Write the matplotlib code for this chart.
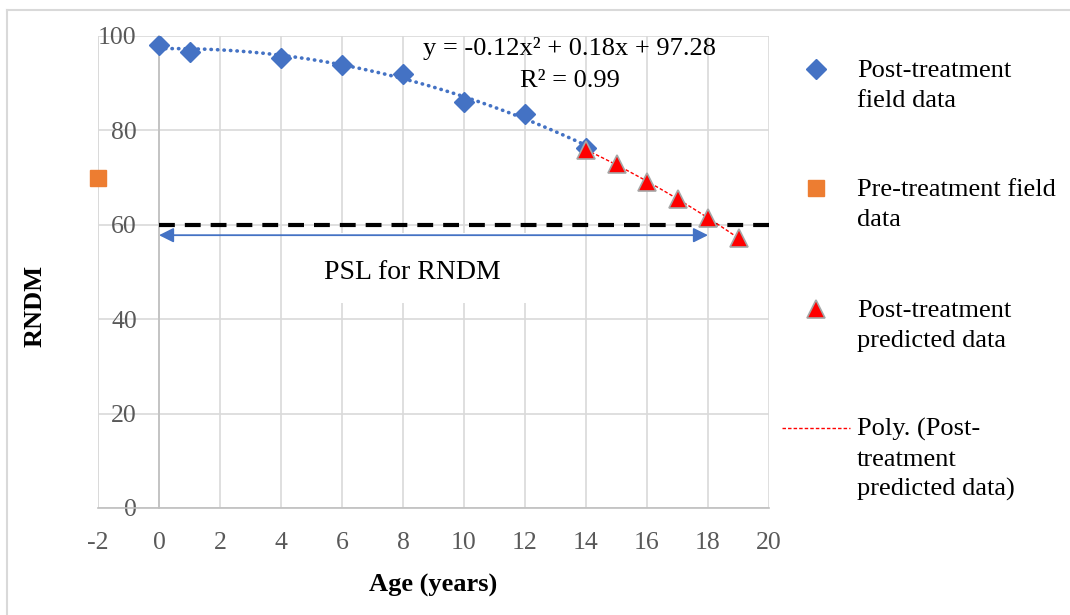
import numpy as np
import matplotlib
matplotlib.use("Agg")
import matplotlib.pyplot as plt
from matplotlib.lines import Line2D
from matplotlib.patches import Rectangle

plt.rcParams['font.family'] = ['Liberation Serif', 'DejaVu Serif']
plt.rcParams['axes.unicode_minus'] = False

# ---- data ----
field_age = [0, 1, 4, 6, 8, 10, 12, 14]
field_rndm = [98.0, 96.7, 95.4, 93.8, 92.0, 86.1, 83.5, 76.3]
pre_age = [-2]
pre_rndm = [69.9]
pred_age = [14, 15, 16, 17, 18, 19]
pred_rndm = [75.8, 72.9, 69.1, 65.5, 61.4, 57.2]
psl_value = 60
psl_range = [0, 18]
x_ticks = list(range(-2, 21, 2))
y_ticks = list(range(0, 101, 20))
legend_labels = ["Post-treatment\nfield data", "Pre-treatment field\ndata",
                 "Post-treatment\npredicted data", "Poly. (Post-\ntreatment\npredicted data)"]
eq_text = "y = -0.12x\u00b2 + 0.18x + 97.28"
r2_text = "R\u00b2 = 0.99"

W, H = 1070, 615
fig = plt.figure(figsize=(W / 100, H / 100), dpi=100)
def fx(px): return px / W
def fy(py): return 1 - py / H

ax = fig.add_axes([fx(98), fy(508), fx(769) - fx(98), fy(36) - fy(508)])
ax.set_xlim(-2, 20)
ax.set_ylim(0, 100)

grid_c = '#d9d9d9'
for s in ['top', 'right']:
    ax.spines[s].set_visible(False)
ax.spines['left'].set_position(('data', 0))
ax.spines['left'].set_color('#bfbfbf')
ax.spines['bottom'].set_color('#bfbfbf')
ax.spines['left'].set_linewidth(1.2)
ax.spines['bottom'].set_linewidth(1.2)
ax.spines['left'].set_zorder(1.5)

ax.set_xticks(x_ticks)
ax.set_yticks(y_ticks)
ax.tick_params(axis='both', length=0, labelsize=18.5, labelcolor='#595959')
ax.tick_params(axis='y', pad=16)
ax.tick_params(axis='x', pad=17.5)
ax.grid(True, color=grid_c, linewidth=1.2, zorder=0)
ax.set_axisbelow(True)
# gridline at x=-2 (left edge)
ax.axvline(-2, color=grid_c, linewidth=1.2, zorder=0.5)

# white box behind PSL text
ax.add_patch(Rectangle((4.6, 43.4), 13.15 - 4.6, 58.3 - 43.4, facecolor='white',
                       edgecolor='none', zorder=1))

# PSL dashed line
ax.plot([0, 20], [psl_value, psl_value], color='black', linewidth=3,
        linestyle=(0, (3.8, 2.4)), zorder=3)

# arrow
ax.annotate('', xy=(psl_range[1], 57.8), xytext=(psl_range[0], 57.8),
            arrowprops=dict(arrowstyle='<|-|>', color='#4472C4', lw=1.3,
                            mutation_scale=22, shrinkA=0, shrinkB=0), zorder=4)
ax.text(8.3, 48.5, "PSL for RNDM", fontsize=20, ha='center', va='baseline',
        color='black', zorder=5)

# trend lines
cf = np.polyfit(field_age, field_rndm, 2)
xs = np.linspace(min(field_age), max(field_age), 200)
ax.plot(xs, np.polyval(cf, xs), color='#4472C4', linewidth=2.6,
        linestyle=(0, (0.1, 1.7)), dash_capstyle='round', zorder=3)
cp = np.polyfit(pred_age, pred_rndm, 2)
xp = np.linspace(min(pred_age), max(pred_age), 100)
ax.plot(xp, np.polyval(cp, xp), color='red', linewidth=1.0,
        linestyle=(0, (2.5, 1.5)), zorder=3)

# markers
ax.plot(field_age, field_rndm, linestyle='none', marker='D', markersize=10,
        color='#4472C4', zorder=6)
ax.plot(pre_age, pre_rndm, linestyle='none', marker='s', markersize=12,
        color='#ED7D31', zorder=6, clip_on=False)
ax.plot(pred_age, pred_rndm, linestyle='none', marker='^', markersize=13,
        markerfacecolor='red', markeredgecolor='#a6a6a6', markeredgewidth=1.2,
        zorder=7, clip_on=False)

# equation
ax.text(13.47, 96.0, eq_text, fontsize=19, ha='center', va='baseline', zorder=5)
ax.text(13.47, 89.2, r2_text, fontsize=19, ha='center', va='baseline', zorder=5)

# axis titles
fig.text(fx(433), fy(585), "Age (years)", fontsize=19, fontweight='bold',
         ha='center', va='center')
fig.text(fx(35), fy(306), "RNDM", fontsize=19, fontweight='bold',
         ha='center', va='center', rotation=90)

# legend (manual)
mk_x = 816
text_x = 857
ys = [69, 188, 309, 428]
fig.add_artist(Line2D([fx(mk_x)], [fy(ys[0])], marker='D', markersize=10,
                      color='#4472C4', linestyle='none'))
fig.add_artist(Line2D([fx(mk_x)], [fy(ys[1])], marker='s', markersize=12,
                      color='#ED7D31', linestyle='none'))
fig.add_artist(Line2D([fx(mk_x)], [fy(ys[2])], marker='^', markersize=13,
                      markerfacecolor='red', markeredgecolor='#a6a6a6',
                      markeredgewidth=1.2, linestyle='none'))
fig.add_artist(Line2D([fx(782), fx(850)], [fy(ys[3]), fy(ys[3])], color='red',
                      linewidth=1.0, linestyle=(0, (2.5, 1.5))))
for y0, lab in zip(ys, legend_labels):
    for i, line in enumerate(lab.split("\n")):
        fig.text(fx(text_x), fy(y0 + 8 + 30 * i), line, fontsize=19,
                 ha='left', va='baseline', color='black')

# chart frame (left and top edges visible)
fig.add_artist(Line2D([fx(7), fx(7)], [fy(10), fy(H + 5)], color=grid_c, linewidth=1.5))
fig.add_artist(Line2D([fx(7), fx(W + 5)], [fy(10), fy(10)], color=grid_c, linewidth=1.5))

fig.savefig("out.png", dpi=100)
